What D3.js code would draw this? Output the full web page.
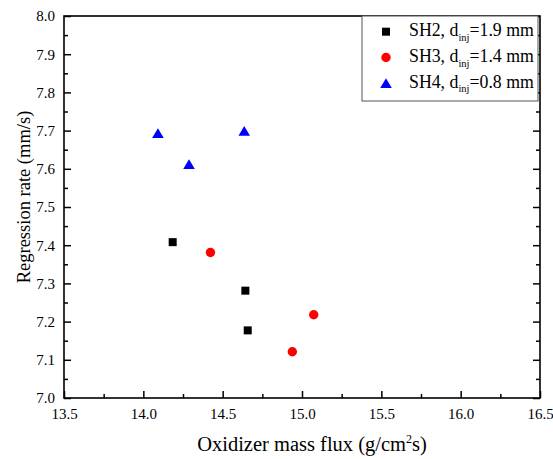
<!DOCTYPE html>
<html>
<head>
<meta charset="utf-8">
<script src="https://cdn.jsdelivr.net/npm/d3@7"></script>
<style>
  html, body { margin: 0; padding: 0; background: #fff; }
  svg, svg text { font-family: "Liberation Serif", "Times New Roman", serif; }
  svg { display: block; }
</style>
</head>
<body>
<svg id="chart" width="553" height="459"></svg>
<script>
// Measured series: oxidizer mass flux (g/cm²s) vs regression rate (mm/s)
const sh2Flux = [14.185, 14.643, 14.658];
const sh2Rate = [7.408, 7.281, 7.177];
const sh3Flux = [14.423, 15.074, 14.939];
const sh3Rate = [7.381, 7.218, 7.121];
const sh4Flux = [14.092, 14.288, 14.636];
const sh4Rate = [7.693, 7.612, 7.699];

const seriesNames = ["SH2", "SH3", "SH4"];
const seriesDiam = ["1.9", "1.4", "0.8"];
const xTicks = [13.5, 14.0, 14.5, 15.0, 15.5, 16.0, 16.5];
const yTicks = [7.0, 7.1, 7.2, 7.3, 7.4, 7.5, 7.6, 7.7, 7.8, 7.9, 8.0];

const series = [
  { name: seriesNames[0], d: seriesDiam[0], xs: sh2Flux, ys: sh2Rate, shape: "square", color: "#000000" },
  { name: seriesNames[1], d: seriesDiam[1], xs: sh3Flux, ys: sh3Rate, shape: "circle", color: "#ff0000" },
  { name: seriesNames[2], d: seriesDiam[2], xs: sh4Flux, ys: sh4Rate, shape: "triangle", color: "#0000ff" }
];

const svg = d3.select("#chart");
const L = 64, R = 540, T = 16, B = 398;

const x = d3.scaleLinear().domain([13.5, 16.5]).range([L, R]);
const y = d3.scaleLinear().domain([7.0, 8.0]).range([B, T]);

const xMinor = d3.range(13.75, 16.5, 0.5);
const yMinor = d3.range(7.05, 8.0, 0.1);

function styleAxis(g) {
  g.attr("font-family", "Liberation Serif, Times New Roman, serif").attr("font-size", 15);
  g.select(".domain").remove();
  g.selectAll(".tick line").attr("stroke", "#000").attr("stroke-width", 1.5);
  g.selectAll(".tick text").attr("fill", "#000")
    .attr("font-family", "Liberation Serif, Times New Roman, serif").attr("font-size", 15);
}

// bottom axis (ticks point inward)
svg.append("g").attr("transform", `translate(0,${B})`)
  .call(d3.axisBottom(x).tickValues(xTicks).tickFormat(d3.format(".1f")).tickSize(-7).tickSizeOuter(0).tickPadding(10.5))
  .call(styleAxis);
svg.append("g").attr("transform", `translate(0,${B})`)
  .call(d3.axisBottom(x).tickValues(xMinor).tickFormat("").tickSize(-4).tickSizeOuter(0))
  .call(styleAxis);

// left axis
svg.append("g").attr("transform", `translate(${L},0)`)
  .call(d3.axisLeft(y).tickValues(yTicks).tickFormat(d3.format(".1f")).tickSize(-7).tickSizeOuter(0).tickPadding(9))
  .call(styleAxis);
svg.append("g").attr("transform", `translate(${L},0)`)
  .call(d3.axisLeft(y).tickValues(yMinor).tickFormat("").tickSize(-4).tickSizeOuter(0))
  .call(styleAxis);

// right axis: ticks only
svg.append("g").attr("transform", `translate(${R},0)`)
  .call(d3.axisRight(y).tickValues(yTicks).tickFormat("").tickSize(-7).tickSizeOuter(0))
  .call(styleAxis);
svg.append("g").attr("transform", `translate(${R},0)`)
  .call(d3.axisRight(y).tickValues(yMinor).tickFormat("").tickSize(-4).tickSizeOuter(0))
  .call(styleAxis);

// frame
svg.append("rect")
  .attr("x", L).attr("y", T).attr("width", R - L).attr("height", B - T)
  .attr("fill", "none").attr("stroke", "#000").attr("stroke-width", 1.6);

// markers
function drawMarker(g, shape, color) {
  if (shape === "square") {
    g.append("rect").attr("x", -4).attr("y", -4).attr("width", 8).attr("height", 8).attr("fill", color);
  } else if (shape === "circle") {
    g.append("circle").attr("r", 4.7).attr("fill", color);
  } else {
    g.append("path").attr("d", "M0,-5 L5.8,4.8 L-5.8,4.8 Z").attr("fill", color);
  }
}

series.forEach(s => {
  s.xs.forEach((v, i) => {
    const g = svg.append("g").attr("transform", `translate(${x(v)},${y(s.ys[i])})`);
    drawMarker(g, s.shape, s.color);
  });
});

// legend
const leg = svg.append("g");
leg.append("rect").attr("x", 362).attr("y", T).attr("width", 176).attr("height", 85)
  .attr("fill", "#fff").attr("stroke", "#555").attr("stroke-width", 1);
series.forEach((s, i) => {
  const cy = 31.7 + i * 25.8;
  const g = leg.append("g").attr("transform", `translate(386,${cy})`);
  drawMarker(g, s.shape, s.color);
  const t = leg.append("text").attr("x", 409).attr("y", cy + 4.5)
    .attr("fill", "#000").style("font-size", "17.8px");
  t.append("tspan").text(`${s.name}, d`);
  t.append("tspan").attr("dy", 4.5).style("font-size", "10.5px").text("inj");
  t.append("tspan").attr("dy", -4.5).text(`=${s.d} mm`);
});

// axis titles
const xt = svg.append("text").attr("x", 312).attr("y", 451).attr("text-anchor", "middle")
  .attr("fill", "#000").style("font-size", "20.5px");
xt.append("tspan").text("Oxidizer mass flux (g/cm");
xt.append("tspan").attr("dy", -8).style("font-size", "12px").text("2");
xt.append("tspan").attr("dy", 8).text("s)");

svg.append("text").attr("transform", "translate(30,197) rotate(-90)")
  .attr("text-anchor", "middle").attr("fill", "#000").style("font-size", "18.5px")
  .text("Regression rate (mm/s)");
</script>
</body>
</html>
